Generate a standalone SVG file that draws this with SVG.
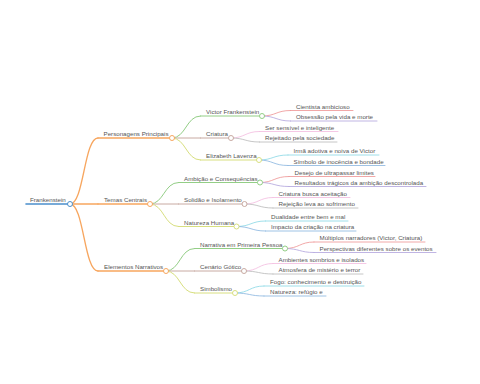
<svg xmlns="http://www.w3.org/2000/svg" width="480" height="384" viewBox="0 0 480 384">
<style>
text{font-family:"Liberation Sans",Arial,sans-serif;font-size:6.2px;fill:#555}
.ln{fill:none;stroke-linecap:round}
.d0{stroke-width:1.6}.d1{stroke-width:1.3}.d2{stroke-width:1}.d3{stroke-width:0.8}
circle{fill:#fff;stroke-width:1}
.blue{stroke:#4b8fcb}.orange{stroke:#f7a65f}.green{stroke:#93ce86}.brown{stroke:#c8aaa2}.olive{stroke:#d8df80}
.red{stroke:#ee9292}.purple{stroke:#b0a2dc}.pink{stroke:#f2bade}.gray{stroke:#b8b8b8}.cyan{stroke:#86d7e4}.blue2{stroke:#86b4de}
</style>
<rect width="480" height="384" fill="#fff"/>
<g id="connectors">
<path class="ln d1 orange" d="M70,204 C84,204 84,138 98,138"/>
<path class="ln d1 orange" d="M70,204 L98,204"/>
<path class="ln d1 orange" d="M70,204 C84,204 84,271 98,271"/>
<path class="ln d2 green" d="M172,138 C186,138 186,116 200.5,116"/>
<path class="ln d2 brown" d="M172,138 L200.5,138"/>
<path class="ln d2 olive" d="M172,138 C186,138 186,160 200.5,160"/>
<path class="ln d2 green" d="M150,204 C164,204 164,182.5 178.5,182.5"/>
<path class="ln d2 brown" d="M150,204 L178.5,204"/>
<path class="ln d2 olive" d="M150,204 C164,204 164,226.5 178.5,226.5"/>
<path class="ln d2 green" d="M166,271 C180,271 180,248.5 194.5,248.5"/>
<path class="ln d2 brown" d="M166,271 L194.5,271"/>
<path class="ln d2 olive" d="M166,271 C180,271 180,293 194.5,293"/>
<path class="ln d3 red" d="M262,116 C276,116 276,110.5 290.5,110.5"/>
<path class="ln d3 purple" d="M262,116 C276,116 276,121 290.5,121"/>
<path class="ln d3 pink" d="M231,138 C245,138 245,131.5 259.5,131.5"/>
<path class="ln d3 gray" d="M231,138 C245,138 245,142 259.5,142"/>
<path class="ln d3 cyan" d="M259,160 C273,160 273,155 288,155"/>
<path class="ln d3 blue2" d="M259,160 C273,160 273,165.5 288,165.5"/>
<path class="ln d3 red" d="M260,182.5 C274,182.5 274,176.5 289,176.5"/>
<path class="ln d3 purple" d="M260,182.5 C274,182.5 274,186.5 289,186.5"/>
<path class="ln d3 pink" d="M244.5,204 C259,204 259,197.5 273,197.5"/>
<path class="ln d3 gray" d="M244.5,204 C259,204 259,208 273,208"/>
<path class="ln d3 cyan" d="M236.5,226.5 C251,226.5 251,221 265.5,221"/>
<path class="ln d3 blue2" d="M236.5,226.5 C251,226.5 251,231 265.5,231"/>
<path class="ln d3 red" d="M285,248.5 C299.5,248.5 299.5,242 314,242"/>
<path class="ln d3 purple" d="M285,248.5 C299.5,248.5 299.5,252.5 314,252.5"/>
<path class="ln d3 pink" d="M244,271 C258.5,271 258.5,263.5 273,263.5"/>
<path class="ln d3 gray" d="M244,271 C258.5,271 258.5,274 273,274"/>
<path class="ln d3 cyan" d="M235,293 C249.5,293 249.5,286 264,286"/>
<path class="ln d3 blue2" d="M235,293 C249.5,293 249.5,296 264,296"/>
</g>
<g id="n-root"><line class="ln d0 blue" x1="26" y1="204" x2="70" y2="204"/><text x="30" y="202">Frankenstein</text><circle class="blue" cx="70" cy="204" r="2.5"/></g>
<g id="n-personagens"><line class="ln d1 orange" x1="98" y1="138" x2="172" y2="138"/><text x="103.5" y="136">Personagens Principais</text><circle class="orange" cx="172" cy="138" r="2.5"/></g>
<g id="n-temas"><line class="ln d1 orange" x1="98" y1="204" x2="150" y2="204"/><text x="104" y="202">Temas Centrais</text><circle class="orange" cx="150" cy="204" r="2.5"/></g>
<g id="n-elementos"><line class="ln d1 orange" x1="98" y1="271" x2="166" y2="271"/><text x="104" y="269">Elementos Narrativos</text><circle class="orange" cx="166" cy="271" r="2.5"/></g>
<g id="n-victor"><line class="ln d2 green" x1="200.5" y1="116" x2="262" y2="116"/><text x="206" y="114">Victor Frankenstein</text><circle class="green" cx="262" cy="116" r="2.5"/></g>
<g id="n-criatura"><line class="ln d2 brown" x1="200.5" y1="138" x2="231" y2="138"/><text x="206" y="136">Criatura</text><circle class="brown" cx="231" cy="138" r="2.5"/></g>
<g id="n-elizabeth"><line class="ln d2 olive" x1="200.5" y1="160" x2="259" y2="160"/><text x="206" y="158">Elizabeth Lavenza</text><circle class="olive" cx="259" cy="160" r="2.5"/></g>
<g id="n-ambicao"><line class="ln d2 green" x1="178.5" y1="182.5" x2="260" y2="182.5"/><text x="184" y="180.5">Ambição e Consequências</text><circle class="green" cx="260" cy="182.5" r="2.5"/></g>
<g id="n-solidao"><line class="ln d2 brown" x1="178.5" y1="204" x2="244.5" y2="204"/><text x="184" y="202">Solidão e Isolamento</text><circle class="brown" cx="244.5" cy="204" r="2.5"/></g>
<g id="n-natureza"><line class="ln d2 olive" x1="178.5" y1="226.5" x2="236.5" y2="226.5"/><text x="184" y="224.5">Natureza Humana</text><circle class="olive" cx="236.5" cy="226.5" r="2.5"/></g>
<g id="n-narrativa"><line class="ln d2 green" x1="194.5" y1="248.5" x2="285" y2="248.5"/><text x="200" y="246.5">Narrativa em Primeira Pessoa</text><circle class="green" cx="285" cy="248.5" r="2.5"/></g>
<g id="n-cenario"><line class="ln d2 brown" x1="194.5" y1="271" x2="244" y2="271"/><text x="200" y="269">Cenário Gótico</text><circle class="brown" cx="244" cy="271" r="2.5"/></g>
<g id="n-simbolismo"><line class="ln d2 olive" x1="194.5" y1="293" x2="235" y2="293"/><text x="200" y="291">Simbolismo</text><circle class="olive" cx="235" cy="293" r="2.5"/></g>
<g id="n-cientista"><line class="ln d3 red" x1="290.5" y1="110.5" x2="353" y2="110.5"/><text x="296" y="108.5">Cientista ambicioso</text></g>
<g id="n-obsessao"><line class="ln d3 purple" x1="290.5" y1="121" x2="377" y2="121"/><text x="296" y="119">Obsessão pela vida e morte</text></g>
<g id="n-sensivel"><line class="ln d3 pink" x1="259.5" y1="131.5" x2="338" y2="131.5"/><text x="265" y="129.5">Ser sensível e inteligente</text></g>
<g id="n-rejeitado"><line class="ln d3 gray" x1="259.5" y1="142" x2="337" y2="142"/><text x="265" y="140">Rejeitado pela sociedade</text></g>
<g id="n-irma"><line class="ln d3 cyan" x1="288" y1="155" x2="379" y2="155"/><text x="293.5" y="153">Irmã adotiva e noiva de Victor</text></g>
<g id="n-simbolo"><line class="ln d3 blue2" x1="288" y1="165.5" x2="385" y2="165.5"/><text x="293.5" y="163.5">Símbolo de inocência e bondade</text></g>
<g id="n-desejo"><line class="ln d3 red" x1="289" y1="176.5" x2="375" y2="176.5"/><text x="294.5" y="174.5">Desejo de ultrapassar limites</text></g>
<g id="n-resultados"><line class="ln d3 purple" x1="289" y1="186.5" x2="426" y2="186.5"/><text x="294.5" y="184.5">Resultados trágicos da ambição descontrolada</text></g>
<g id="n-busca"><line class="ln d3 pink" x1="273" y1="197.5" x2="350" y2="197.5"/><text x="278.5" y="195.5">Criatura busca aceitação</text></g>
<g id="n-rejeicao"><line class="ln d3 gray" x1="273" y1="208" x2="358" y2="208"/><text x="278.5" y="206">Rejeição leva ao sofrimento</text></g>
<g id="n-dualidade"><line class="ln d3 cyan" x1="265.5" y1="221" x2="348" y2="221"/><text x="271" y="219">Dualidade entre bem e mal</text></g>
<g id="n-impacto"><line class="ln d3 blue2" x1="265.5" y1="231" x2="356" y2="231"/><text x="271" y="229">Impacto da criação na criatura</text></g>
<g id="n-multiplos"><line class="ln d3 red" x1="314" y1="242" x2="425" y2="242"/><text x="319.5" y="240">Múltiplos narradores (Victor, Criatura)</text></g>
<g id="n-perspectivas"><line class="ln d3 purple" x1="314" y1="252.5" x2="436" y2="252.5"/><text x="319.5" y="250.5">Perspectivas diferentes sobre os eventos</text></g>
<g id="n-ambientes"><line class="ln d3 pink" x1="273" y1="263.5" x2="366" y2="263.5"/><text x="278.5" y="261.5">Ambientes sombrios e isolados</text></g>
<g id="n-atmosfera"><line class="ln d3 gray" x1="273" y1="274" x2="363" y2="274"/><text x="278.5" y="272">Atmosfera de mistério e terror</text></g>
<g id="n-fogo"><line class="ln d3 cyan" x1="264" y1="286" x2="364" y2="286"/><text x="270" y="284">Fogo: conhecimento e destruição</text></g>
<g id="n-refugio"><line class="ln d3 blue2" x1="264" y1="296" x2="326" y2="296"/><text x="270" y="294">Natureza: refúgio e</text></g>
</svg>
